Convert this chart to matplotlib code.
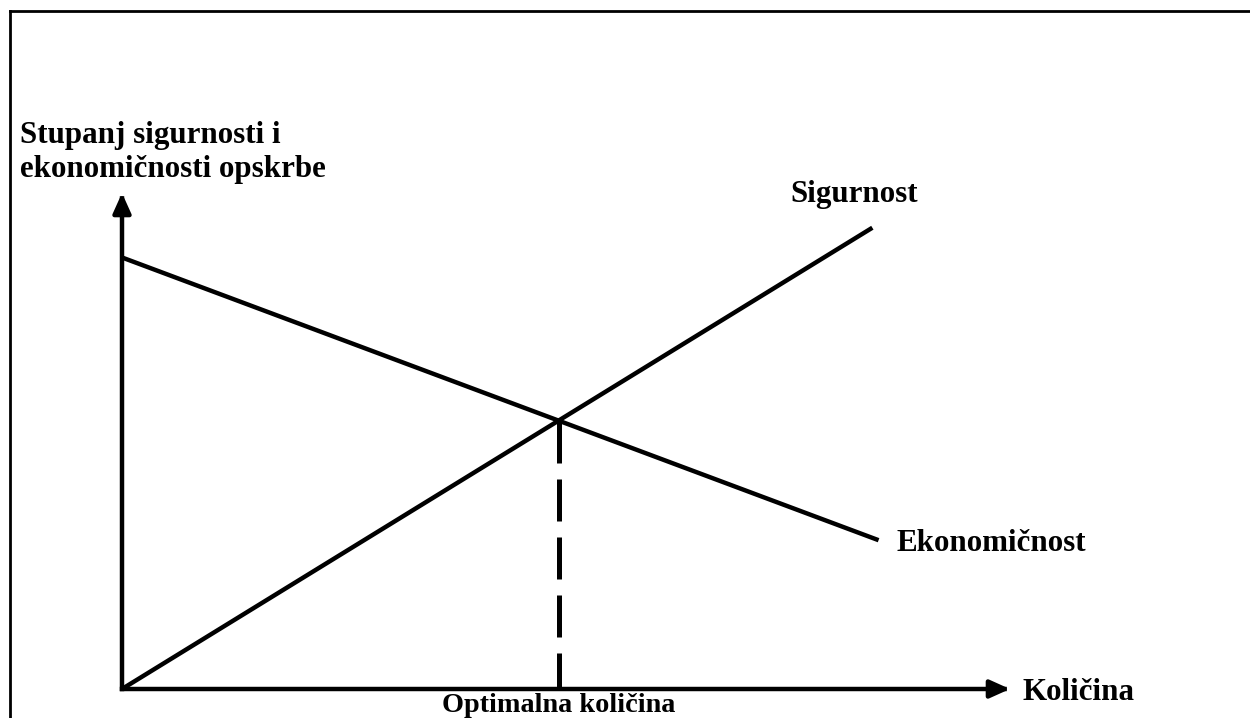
import numpy as np
import matplotlib.pyplot as plt
from matplotlib.lines import Line2D

plt.rcParams["font.family"] = ["Liberation Serif", "DejaVu Serif"]
plt.rcParams["font.weight"] = "bold"

# podaci (konceptualna skala 0-10)
sigurnost_x = [0.0, 8.45]
sigurnost_y = [0.0, 9.30]
ekonomicnost_x = [0.0, 8.52]
ekonomicnost_y = [8.70, 3.00]
os_max_x = 10.0
os_max_y = 10.0

# optimum = sjecište dviju pravaca
k_s = (sigurnost_y[1] - sigurnost_y[0]) / (sigurnost_x[1] - sigurnost_x[0])
k_e = (ekonomicnost_y[1] - ekonomicnost_y[0]) / (ekonomicnost_x[1] - ekonomicnost_x[0])
opt_x = (ekonomicnost_y[0] - sigurnost_y[0]) / (k_s - k_e)
opt_y = sigurnost_y[0] + k_s * opt_x

fig = plt.figure(figsize=(12.5, 7.18), dpi=100)
ax = fig.add_axes([122 / 1250, 29 / 718, 888 / 1250, 496 / 718])
ax.set_xlim(0, os_max_x)
ax.set_ylim(0, os_max_y)
ax.axis("off")

# okvir (gornji i lijevi rub)
fig.add_artist(Line2D([0.008, 1.0], [0.9847, 0.9847], color="black", lw=2.0,
                      transform=fig.transFigure))
fig.add_artist(Line2D([0.008, 0.008], [0.0, 0.9847], color="black", lw=2.0,
                      transform=fig.transFigure))

# osi sa strelicama
arrow = dict(arrowstyle="-|>,head_length=0.6,head_width=0.27", lw=3.2,
             color="black", mutation_scale=20, shrinkA=0, shrinkB=0,
             capstyle="projecting")
ax.annotate("", xy=(os_max_x, 0), xytext=(0, 0), arrowprops=arrow,
            annotation_clip=False)
ax.annotate("", xy=(0, os_max_y), xytext=(0, 0), arrowprops=arrow,
            annotation_clip=False)

# pravci
ax.plot(sigurnost_x, sigurnost_y, color="black", lw=3.2,
        solid_capstyle="butt", clip_on=False)
ax.plot(ekonomicnost_x, ekonomicnost_y, color="black", lw=3.2,
        solid_capstyle="butt", clip_on=False)
ax.plot([opt_x, opt_x], [opt_y, 0], color="black", lw=3.6,
        dashes=(8.4, 3.2), dash_capstyle="butt", clip_on=False)

fs = 22.3
ax.text(8.25, 9.82, "Sigurnost", fontsize=fs, ha="center", va="baseline")
ax.text(8.72, 2.78, "Ekonomičnost", fontsize=fs, ha="left", va="baseline")
ax.text(10.14, -0.22, "Količina", fontsize=fs, ha="left", va="baseline")
ax.text(opt_x, -0.46, "Optimalna količina", fontsize=20.3, ha="center",
        va="baseline")
ax.text(-1.15, 11.01, "Stupanj sigurnosti i", fontsize=fs, ha="left",
        va="baseline")
ax.text(-1.15, 10.32, "ekonomičnosti opskrbe", fontsize=fs, ha="left",
        va="baseline")

fig.savefig("out.png", dpi=100, facecolor="white")
